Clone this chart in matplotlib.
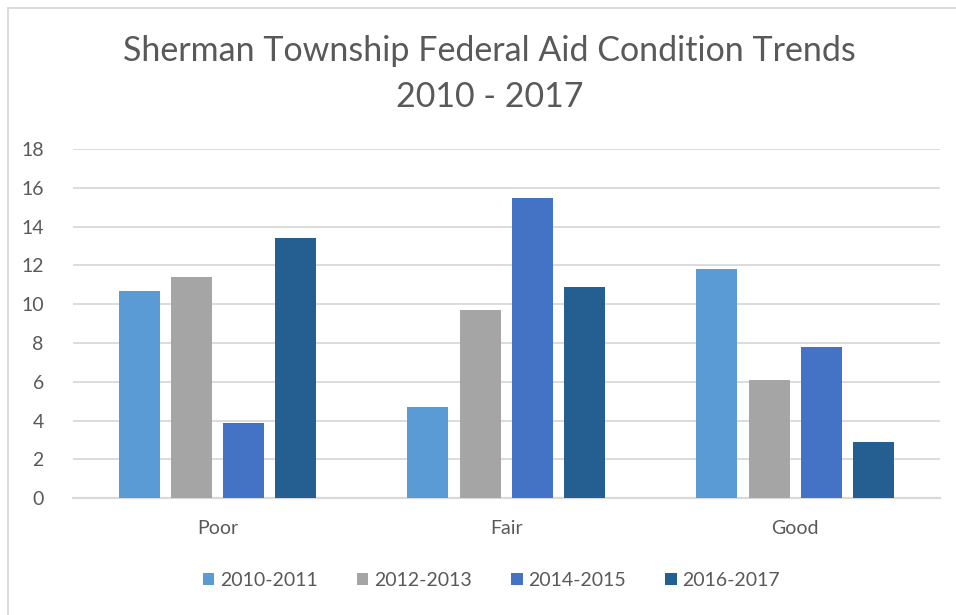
import matplotlib
matplotlib.use("Agg")
import matplotlib.pyplot as plt
import numpy as np
from matplotlib.patches import Rectangle

categories = ["Poor", "Fair", "Good"]
series_names = ["2010-2011", "2012-2013", "2014-2015", "2016-2017"]
s2010 = [10.7, 4.7, 11.8]
s2012 = [11.4, 9.7, 6.1]
s2014 = [3.9, 15.5, 7.8]
s2016 = [13.4, 10.9, 2.9]
series_values = [s2010, s2012, s2014, s2016]
colors = ["#5B9BD5", "#A5A5A5", "#4472C4", "#255E91"]
yticks = [0, 2, 4, 6, 8, 10, 12, 14, 16, 18]

plt.rcParams['font.family'] = ['Lato', 'DejaVu Sans']
txt = "#595959"

fig = plt.figure(figsize=(9.56, 6.15), dpi=100)
ax = fig.add_axes([0.0764, 0.190, 0.9066, 0.5677])

x = np.arange(len(categories))
step = 0.181
width = 0.142
for i, (name, vals) in enumerate(zip(series_names, series_values)):
    ax.bar(x + (i - 1.5) * step, vals, width, color=colors[i], label=name, zorder=3)

ax.set_xlim(-0.5, 2.5)
ax.set_ylim(0, 18)
ax.set_yticks(yticks)
ax.set_xticks(x)
ax.set_xticklabels(categories)
ax.grid(axis='y', color='#D9D9D9', linewidth=1.3, zorder=0)
for s in ['top', 'right', 'left']:
    ax.spines[s].set_visible(False)
ax.spines['bottom'].set_color('#D9D9D9')
ax.spines['bottom'].set_linewidth(1.6)
ax.tick_params(axis='both', length=0, labelsize=14, colors=txt)
ax.tick_params(axis='y', pad=21)
ax.tick_params(axis='x', pad=16)

fig.text(0.512, 0.880, "Sherman Township Federal Aid Condition Trends\n2010 - 2017",
         ha='center', va='center', fontsize=24.5, color=txt, linespacing=1.55)

leg = fig.legend(loc='center', bbox_to_anchor=(0.514, 0.056), ncol=4, frameon=False,
                 fontsize=14, handlelength=0.6, handleheight=0.6, handletextpad=0.3,
                 columnspacing=2.0)
for t in leg.get_texts():
    t.set_color(txt)

fig.patches.append(Rectangle((8/956, -0.1), 1.2, 1 - 8/615 + 0.1, transform=fig.transFigure,
                             fill=False, edgecolor='#D9D9D9', linewidth=1.3))

fig.savefig("out.png", dpi=100)
